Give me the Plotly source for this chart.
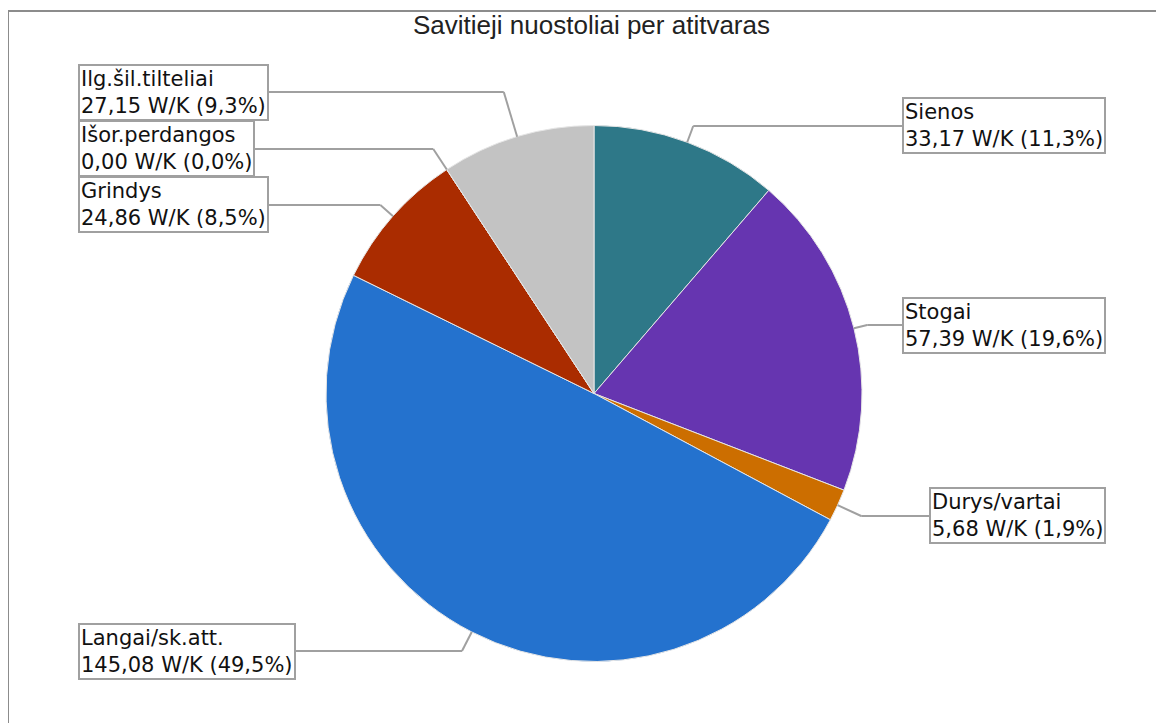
import math
import plotly.graph_objects as go

categories = ["Sienos", "Stogai", "Durys/vartai", "Langai/sk.att.", "Grindys", "Išor.perdangos", "Ilg.šil.tilteliai"]
values = [33.17, 57.39, 5.68, 145.08, 24.86, 0.00, 27.15]
colors = ["#2E7888", "#6635B0", "#CC6E00", "#2472CE", "#AA2C00", "#B0B0B0", "#C3C3C3"]
title = "Savitieji nuostoliai per atitvaras"

# label layout (pixels): side, anchor x, line y
label_side = ["right", "right", "right", "left", "left", "left", "left"]
label_x = [1106, 1106, 1106, 78, 78, 78, 78]
label_y = [126, 325, 516, 651, 205, 149, 92]

W, H = 1164, 723
OFF = 8  # page body margin
CX, CY, R = 594, 393.5, 268

def px(x):
    return (x - OFF) / W

def py(y):
    return 1 - (y - OFF) / H

total = sum(values)
fig = go.Figure()
fig.add_trace(go.Pie(
    labels=categories, values=values, sort=False, direction="clockwise", rotation=0,
    marker=dict(colors=colors, line=dict(color="#E6E6E6", width=1)),
    textinfo="none", hoverinfo="label+value+percent", showlegend=False,
    domain=dict(x=[px(CX - R), px(CX + R)], y=[py(CY + R), py(CY - R)]),
))

def fmt(v):
    return f"{v:.2f}".replace(".", ",")

shapes = []
annotations = []
cum = 0.0
lc = "#A0A0A0"
for cat, v, side, lx, ly in zip(categories, values, label_side, label_x, label_y):
    frac = v / total
    mid = (cum + frac / 2) * 2 * math.pi
    cum += frac
    sx, sy = math.sin(mid), -math.cos(mid)
    p0x, p0y = CX + R * sx, CY + R * sy
    t = (ly - p0y) / sy if abs(sy) > 1e-6 else 18
    ex, ey = p0x + t * sx, ly
    shapes.append(dict(type="line", xref="paper", yref="paper", x0=px(p0x), y0=py(p0y), x1=px(ex), y1=py(ey),
                       line=dict(color=lc, width=2), layer="above"))
    shapes.append(dict(type="line", xref="paper", yref="paper", x0=px(ex), y0=py(ey), x1=px(lx), y1=py(ly),
                       line=dict(color=lc, width=2), layer="above"))
    pct = f"{frac*100:.1f}".replace(".", ",")
    annotations.append(dict(
        xref="paper", yref="paper", x=px(lx), y=py(ly), xanchor=side, yanchor="middle",
        text=f"{cat}<br>{fmt(v)} W/K ({pct}%)", showarrow=False, align="left",
        font=dict(family="DejaVu Sans", size=21, color="#111111"),
        bgcolor="white", bordercolor=lc, borderwidth=2, borderpad=1,
    ))

# frame
shapes.append(dict(type="line", xref="paper", yref="paper", x0=px(8), y0=py(11), x1=1, y1=py(11),
                   line=dict(color="#8C8C8C", width=2)))
shapes.append(dict(type="line", xref="paper", yref="paper", x0=px(8), y0=py(11), x1=px(8), y1=0,
                   line=dict(color="#8C8C8C", width=2)))

annotations.append(dict(xref="paper", yref="paper", x=px(591), y=py(25), xanchor="center", yanchor="middle",
                        text=title, showarrow=False,
                        font=dict(family="Liberation Sans, Arial", size=26, color="#222222")))

fig.update_layout(width=W, height=H, margin=dict(l=0, r=0, t=0, b=0),
                  paper_bgcolor="white", plot_bgcolor="white",
                  shapes=shapes, annotations=annotations)
fig.write_html("out.html")
